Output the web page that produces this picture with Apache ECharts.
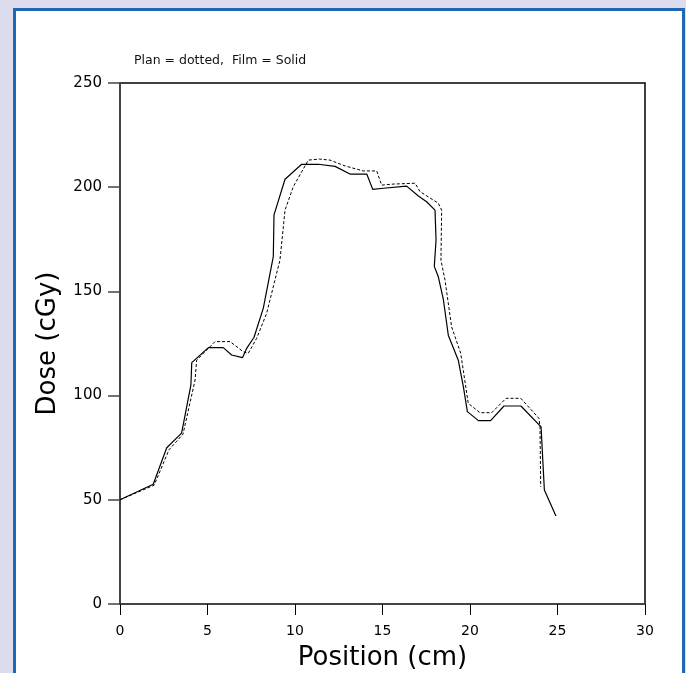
<!DOCTYPE html>
<html>
<head>
<meta charset="utf-8">
<script src="https://cdn.jsdelivr.net/npm/echarts@6/dist/echarts.min.js"></script>
<style>
html,body{margin:0;padding:0;background:#dcdcee;}
#frame{position:absolute;left:13px;top:8px;width:666px;height:700px;border:3px solid #1e68b5;background:#fff;}
#chart{position:absolute;left:0;top:0;width:686px;height:673px;}
</style>
</head>
<body>
<div id="frame"></div>
<div id="chart"></div>
<script>
// Film (solid line)
const filmX = [0, 1.9, 2.67, 3.52, 4.05, 4.1, 5.05, 5.9, 6.38, 7.0, 7.24, 7.66, 8.19, 8.76, 8.8, 9.43, 10.38, 11.33, 12.29, 13.14, 14.1, 14.44, 15.05, 16.38, 17.05, 17.52, 18.0, 18.06, 17.96, 18.19, 18.48, 18.76, 19.33, 19.62, 19.85, 20.48, 21.18, 21.94, 22.91, 24.06, 24.25, 24.91];
const filmY = [50, 57.5, 75, 82, 105, 115.8, 123, 123, 119.5, 118.2, 122.7, 128, 142, 166.7, 186.7, 203.8, 211, 211, 210, 206.3, 206.3, 199, 199.5, 200.5, 195.8, 193, 189, 174.7, 162, 157, 146, 129, 117, 104.3, 92.3, 88, 88, 95, 95, 85, 54.7, 42.2];
// Plan (dotted line)
const planX = [0, 1.95, 2.8, 3.6, 4.29, 4.38, 5.43, 6.29, 7.05, 7.33, 7.81, 8.38, 9.14, 9.43, 9.9, 10.76, 11.4, 12.0, 12.86, 13.9, 14.67, 14.95, 15.62, 16.86, 17.14, 18.19, 18.38, 18.34, 18.57, 18.95, 19.47, 19.9, 20.57, 21.24, 22.06, 22.9, 23.94, 24.0, 24.04];
const planY = [50, 57, 74, 81.5, 107.5, 117, 125.9, 125.9, 121, 120.3, 127.5, 139.5, 165, 189, 200.2, 213, 213.5, 213, 210.2, 207.8, 207.8, 201, 201.5, 201.9, 197.9, 192.3, 189, 165, 155.5, 133, 120.3, 96.3, 91.8, 91.8, 98.7, 98.7, 89.1, 85, 56.3];
const xTicks = [0, 5, 10, 15, 20, 25, 30];
const yTicks = [0, 50, 100, 150, 200, 250];
const titleText = 'Plan = dotted,  Film = Solid';
const xName = 'Position (cm)';
const yName = 'Dose (cGy)';

const zip = (a, b) => a.map((v, i) => [v, b[i]]);
const font = '"DejaVu Sans", sans-serif';

const chart = echarts.init(document.getElementById('chart'), null, {renderer: 'canvas'});
chart.setOption({
  backgroundColor: 'transparent',
  animation: false,
  title: {
    text: titleText, left: 129, top: 49,
    textStyle: {fontSize: 12.5, fontWeight: 'normal', color: '#111', fontFamily: font}
  },
  grid: {left: 120, right: 41, top: 83, bottom: 69, containLabel: false, outerBoundsMode: 'none', show: true, borderColor: '#000', borderWidth: 1.5, backgroundColor: 'transparent'},
  xAxis: {
    type: 'value', min: xTicks[0], max: xTicks[xTicks.length - 1], interval: 5,
    name: xName, nameLocation: 'middle', nameGap: 41,
    nameTextStyle: {fontSize: 26, color: '#000', fontFamily: font},
    axisLine: {show: true, onZero: false, lineStyle: {color: '#444', width: 2}},
    axisTick: {show: true, length: 11, lineStyle: {color: '#000', width: 1}},
    axisLabel: {fontSize: 14, color: '#000', margin: 20, fontFamily: font},
    splitLine: {show: false}
  },
  yAxis: {
    type: 'value', min: yTicks[0], max: yTicks[yTicks.length - 1], interval: 50,
    name: yName, nameLocation: 'middle', nameGap: 59,
    nameTextStyle: {fontSize: 26, color: '#000', fontFamily: font},
    axisLine: {show: true, onZero: false, lineStyle: {color: '#444', width: 2}},
    axisTick: {show: true, inside: false, length: 12, lineStyle: {color: '#444', width: 1.5}},
    axisLabel: {fontSize: 15, color: '#000', margin: 18, fontFamily: font},
    splitLine: {show: false}
  },
  series: [
    {
      name: 'Plan', type: 'line', data: zip(planX, planY), showSymbol: false, symbol: 'none',
      lineStyle: {color: '#000', width: 1, type: [3, 2]}
    },
    {
      name: 'Film', type: 'line', data: zip(filmX, filmY), showSymbol: false, symbol: 'none',
      lineStyle: {color: '#000', width: 1.2, type: 'solid'}
    }
  ]
});
</script>
</body>
</html>
